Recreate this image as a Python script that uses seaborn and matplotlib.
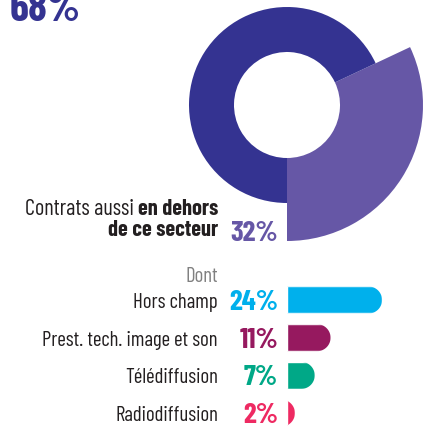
import matplotlib
matplotlib.use("Agg")
import matplotlib.pyplot as plt
from matplotlib.path import Path
import numpy as np
import pandas as pd
import seaborn as sns

sns.set_theme(style="white")
FONT = "Barlow Condensed"
plt.rcParams["font.family"] = [FONT, "DejaVu Sans"]

# Shares of contracts
inside_pct = 68
outside_pct = 32

# Breakdown of contracts outside the sector
categories = ["Hors champ", "Prest. tech. image et son", "Télédiffusion", "Radiodiffusion"]
values = [24, 11, 7, 2]
bar_colors = ["#00b0ec", "#96195f", "#00a887", "#ee2a62"]

DARK = "#343391"
LIGHT = "#6657a6"
INK = "#231f20"
GREY = "#808080"

LABEL_SIZE = 15
TITLE_SIZE = 16
PCT_SIZE = 21

W, H = 425, 429
fig = plt.figure(figsize=(W / 100, H / 100), dpi=100)

# Full-figure axes in pixel units (y up) for the donut and free text
ax = fig.add_axes([0, 0, 1, 1])
cx, cy = 287, H - 105
wedges, _ = ax.pie(
    [outside_pct, inside_pct],
    colors=[LIGHT, DARK],
    startangle=-90,
    counterclock=True,
    center=(cx, cy),
    radius=98,
    wedgeprops=dict(width=45, linewidth=0),
)
# the "outside" slice sticks out further than the ring
wedges[0].set_radius(136)
wedges[0].set_width(83)
ax.set_xlim(0, W)
ax.set_ylim(0, H)
ax.set_aspect("auto")
ax.axis("off")

# Horizontal bars
row_px = 37.7
top_px = 300 - row_px / 2
bar_left = 287
px_per_pct = 3.96
bar_ax = fig.add_axes([bar_left / W, (H - (top_px + 4 * row_px)) / H,
                       (W - bar_left) / W, 4 * row_px / H])
df = pd.DataFrame({"categorie": categories, "part": values})
sns.barplot(data=df, x="part", y="categorie", hue="categorie", palette=bar_colors,
            orient="h", width=27 / row_px, saturation=1, legend=False, ax=bar_ax)
bar_ax.set_xlim(0, (W - bar_left) / px_per_pct)
bar_ax.set_ylim(3.5, -0.5)
bar_ax.axis("off")

# Round the right end of every bar
r_x = 13.5 / px_per_pct
t = np.linspace(-np.pi / 2, np.pi / 2, 80)
for patch in bar_ax.patches:
    x0, y0 = patch.get_x(), patch.get_y()
    w, h = patch.get_width(), patch.get_height()
    ex = x0 + w - r_x
    ey = y0 + h / 2
    arc = np.column_stack([ex + r_x * np.cos(t), ey + (h / 2) * np.sin(t)])
    verts = np.vstack([[x0 - 10, y0], arc, [x0 - 10, y0 + h], [x0 - 10, y0]])
    patch.set_clip_path(Path(verts), bar_ax.transData)

for i, (lab, val, col) in enumerate(zip(categories, values, bar_colors)):
    bar_ax.annotate(f"{val}%", xy=(0, i), xytext=(-9, -10), textcoords="offset pixels",
                    ha="right", va="baseline", color=col, fontsize=PCT_SIZE,
                    fontweight="bold", annotation_clip=False)
    bar_ax.annotate(lab, xy=(0, i), xytext=(-69, -8), textcoords="offset pixels",
                    ha="right", va="baseline", color=INK, fontsize=LABEL_SIZE,
                    fontweight="normal", annotation_clip=False)

# Headline figures and captions
ax.text(10, H - 21, f"{inside_pct}%", ha="left", va="baseline", color=DARK,
        fontsize=31, fontweight="bold")
ax.text(278, H - 241, f"{outside_pct}%", ha="right", va="baseline", color=LIGHT,
        fontsize=PCT_SIZE, fontweight="bold")
ax.text(218, H - 282, "Dont", ha="right", va="baseline", color=GREY,
        fontsize=LABEL_SIZE, fontweight="normal")

b1 = ax.text(218, H - 215, "en dehors", ha="right", va="baseline", color=INK,
             fontsize=TITLE_SIZE, fontweight="bold")
ax.text(218, H - 236, "de ce secteur", ha="right", va="baseline", color=INK,
        fontsize=TITLE_SIZE, fontweight="bold")
fig.canvas.draw()
bb = b1.get_window_extent()
ax.text(bb.x0 - 4, H - 215, "Contrats aussi", ha="right", va="baseline", color=INK,
        fontsize=TITLE_SIZE, fontweight="normal")

fig.savefig("out.png", dpi=100)
